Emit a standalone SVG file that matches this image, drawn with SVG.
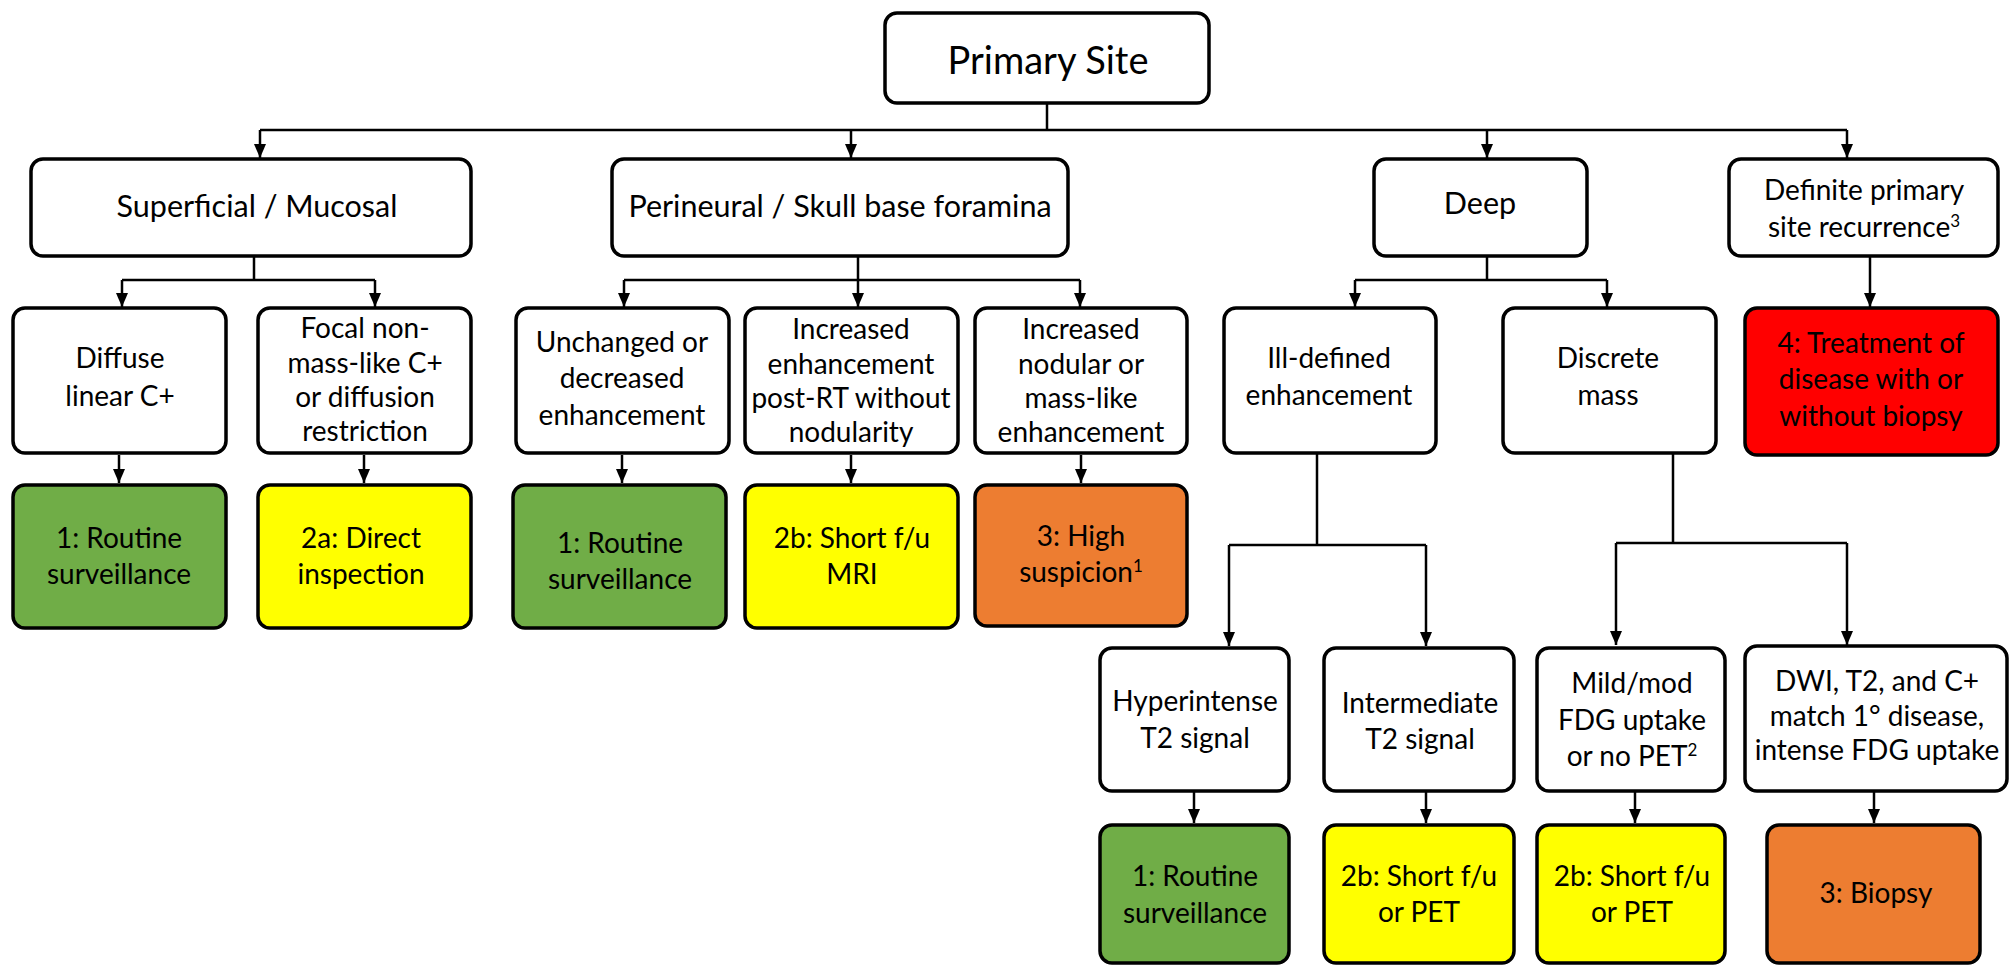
<svg xmlns="http://www.w3.org/2000/svg" width="2011" height="966" viewBox="0 0 2011 966">
<style>
.b{stroke:#000;stroke-width:3.5;fill:#fff}
.g{fill:#70AD47}.y{fill:#FFFF00}.o{fill:#ED7D31}.r{fill:#FF0000}
text{font-family:Lato,"Liberation Sans",sans-serif;font-size:28px;fill:#000;text-anchor:middle}
.t1{font-size:30.5px}
.c{fill:none;stroke:#000;stroke-width:2.5}
.a{fill:none;stroke:#000;stroke-width:2.5;marker-end:url(#ar)}
.sup{font-size:17px}
</style>
<defs>
<marker id="ar" markerUnits="userSpaceOnUse" markerWidth="14" markerHeight="12" refX="14" refY="6" orient="auto" viewBox="0 0 14 12">
<path d="M0,0 L14,6 L0,12 Z" fill="#000"/>
</marker>
</defs>
<rect width="2011" height="966" fill="#fff"/>
<g id="connectors">
<path class="c" d="M1047,103 V130 M260,130 H1847"/>
<path class="a" d="M260,130 V158"/>
<path class="a" d="M851,130 V158"/>
<path class="a" d="M1487,130 V158"/>
<path class="a" d="M1847,130 V158"/>
<path class="c" d="M254,256 V280 M122,280 H375"/>
<path class="a" d="M122,280 V307"/>
<path class="a" d="M375,280 V307"/>
<path class="c" d="M858,256 V280 M624,280 H1080"/>
<path class="a" d="M624,280 V307"/>
<path class="a" d="M858,280 V307"/>
<path class="a" d="M1080,280 V307"/>
<path class="c" d="M1487,256 V280 M1355,280 H1607"/>
<path class="a" d="M1355,280 V307"/>
<path class="a" d="M1607,280 V307"/>
<path class="a" d="M1870,256 V307"/>
<path class="a" d="M119,455 V483"/>
<path class="a" d="M364,455 V483"/>
<path class="a" d="M622,455 V483"/>
<path class="a" d="M851,455 V483"/>
<path class="a" d="M1081,455 V483"/>
<path class="c" d="M1317,454 V545 M1229,545 H1426"/>
<path class="a" d="M1229,545 V646"/>
<path class="a" d="M1426,545 V646"/>
<path class="c" d="M1673,454 V543 M1616,543 H1847"/>
<path class="a" d="M1616,543 V645"/>
<path class="a" d="M1847,543 V645"/>
<path class="a" d="M1194,792 V823"/>
<path class="a" d="M1426,792 V823"/>
<path class="a" d="M1635,792 V823"/>
<path class="a" d="M1874,792 V823"/>
</g>
<g id="primary"><rect class="b" x="885" y="13" width="324" height="90" rx="12"/><text x="1048" y="74" style="font-size:38px">Primary Site</text></g>
<g id="superficial"><rect class="b" x="31" y="159" width="440" height="97" rx="12"/><text class="t1" x="257" y="217">Superficial / Mucosal</text></g>
<g id="perineural"><rect class="b" x="612" y="159" width="456" height="97" rx="12"/><text class="t1" x="840" y="217">Perineural / Skull base foramina</text></g>
<g id="deep"><rect class="b" x="1374" y="159" width="213" height="97" rx="12"/><text class="t1" x="1480" y="214">Deep</text></g>
<g id="definite"><rect class="b" x="1729" y="159" width="269" height="97" rx="12"/><text x="1864" y="200">Definite primary</text><text x="1864" y="237">site recurrence<tspan class="sup" dy="-10">3</tspan></text></g>

<g id="diffuse"><rect class="b" x="13" y="308" width="213" height="145" rx="12"/><text x="120" y="368">Diffuse</text><text x="120" y="406">linear C+</text></g>
<g id="focal"><rect class="b" x="258" y="308" width="213" height="145" rx="12"/><text x="365" y="338">Focal non-</text><text x="365" y="373">mass-like C+</text><text x="365" y="407">or diffusion</text><text x="365" y="441">restriction</text></g>
<g id="unchanged"><rect class="b" x="516" y="308" width="213" height="145" rx="12"/><text x="622" y="352">Unchanged or</text><text x="622" y="388">decreased</text><text x="622" y="425">enhancement</text></g>
<g id="increased-enh"><rect class="b" x="745" y="308" width="213" height="145" rx="12"/><text x="851" y="339">Increased</text><text x="851" y="374">enhancement</text><text x="851" y="408">post-RT without</text><text x="851" y="442">nodularity</text></g>
<g id="increased-nod"><rect class="b" x="975" y="308" width="212" height="145" rx="12"/><text x="1081" y="339">Increased</text><text x="1081" y="374">nodular or</text><text x="1081" y="408">mass-like</text><text x="1081" y="442">enhancement</text></g>
<g id="illdefined"><rect class="b" x="1224" y="308" width="212" height="145" rx="12"/><text x="1329" y="368">Ill-defined</text><text x="1329" y="405">enhancement</text></g>
<g id="discrete"><rect class="b" x="1503" y="308" width="213" height="145" rx="12"/><text x="1608" y="368">Discrete</text><text x="1608" y="405">mass</text></g>
<g id="treatment"><rect class="b r" x="1745" y="308" width="253" height="147" rx="12"/><text x="1871" y="353">4: Treatment of</text><text x="1871" y="389">disease with or</text><text x="1871" y="426">without biopsy</text></g>

<g id="routine1"><rect class="b g" x="13" y="485" width="213" height="143" rx="12"/><text x="119" y="548">1: Routine</text><text x="119" y="584">surveillance</text></g>
<g id="direct"><rect class="b y" x="258" y="485" width="213" height="143" rx="12"/><text x="361" y="548">2a: Direct</text><text x="361" y="584">inspection</text></g>
<g id="routine2"><rect class="b g" x="513" y="485" width="213" height="143" rx="12"/><text x="620" y="553">1: Routine</text><text x="620" y="589">surveillance</text></g>
<g id="shortmri"><rect class="b y" x="745" y="485" width="213" height="143" rx="12"/><text x="852" y="548">2b: Short f/u</text><text x="852" y="584">MRI</text></g>
<g id="highsusp"><rect class="b o" x="975" y="485" width="212" height="141" rx="12"/><text x="1081" y="546">3: High</text><text x="1081" y="582">suspicion<tspan class="sup" dy="-10">1</tspan></text></g>

<g id="hyper"><rect class="b" x="1100" y="648" width="189" height="143" rx="12"/><text x="1195" y="711">Hyperintense</text><text x="1195" y="748">T2 signal</text></g>
<g id="intermediate"><rect class="b" x="1324" y="648" width="190" height="143" rx="12"/><text x="1420" y="713">Intermediate</text><text x="1420" y="749">T2 signal</text></g>
<g id="mild"><rect class="b" x="1537" y="648" width="188" height="143" rx="12"/><text x="1632" y="693">Mild/mod</text><text x="1632" y="730">FDG uptake</text><text x="1632" y="766">or no PET<tspan class="sup" dy="-10">2</tspan></text></g>
<g id="dwi"><rect class="b" x="1745" y="646" width="262" height="145" rx="12"/><text x="1877" y="691">DWI, T2, and C+</text><text x="1877" y="726">match 1° disease,</text><text x="1877" y="760">intense FDG uptake</text></g>

<g id="routine3"><rect class="b g" x="1100" y="825" width="189" height="138" rx="12"/><text x="1195" y="886">1: Routine</text><text x="1195" y="923">surveillance</text></g>
<g id="shortpet1"><rect class="b y" x="1324" y="825" width="190" height="138" rx="12"/><text x="1419" y="886">2b: Short f/u</text><text x="1419" y="922">or PET</text></g>
<g id="shortpet2"><rect class="b y" x="1537" y="825" width="188" height="138" rx="12"/><text x="1632" y="886">2b: Short f/u</text><text x="1632" y="922">or PET</text></g>
<g id="biopsy"><rect class="b o" x="1767" y="825" width="213" height="138" rx="12"/><text x="1876" y="903">3: Biopsy</text></g>
</svg>
